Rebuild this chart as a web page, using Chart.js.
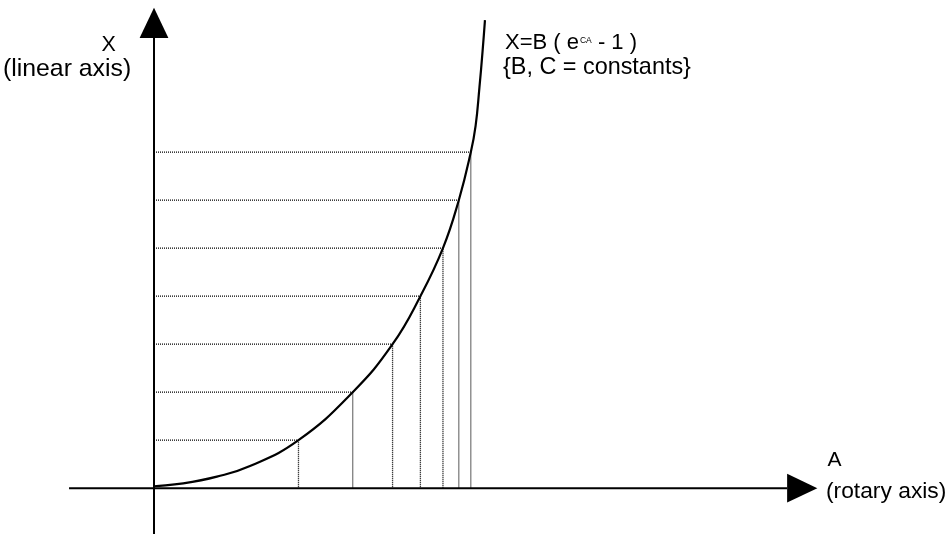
<!DOCTYPE html>
<html>
<head>
<meta charset="utf-8">
<title>X = B (e^CA - 1)</title>
<script src="https://cdn.jsdelivr.net/npm/chart.js@4.4.1/dist/chart.umd.min.js"></script>
<style>
    html, body { margin: 0; padding: 0; background: #fff; }
    canvas { display: block; }
</style>
</head>
<body>
<canvas id="curveChart" width="951" height="534"></canvas>
<script>
// Curve X = B(e^CA - 1) (A = rotary, X = linear)
const curveA = [0, 0.61, 1.31, 2.00, 3.01, 4.14, 4.97, 5.55, 6.02, 6.35, 6.60, 6.70, 6.78, 6.845, 6.895];
const curveX = [0.04, 0.10, 0.24, 0.46, 1, 2, 3, 4, 5, 6, 7, 7.55, 8.35, 9.10, 9.75];

// Equal steps of X and the A where the curve reaches them
const markX = [1, 2, 3, 4, 5, 6, 7];
const markA = [3.01, 4.14, 4.97, 5.55, 6.02, 6.35, 6.60];

// Axis extents (A / X units)
const axisA = [-1.77, 13.19];
const axisX = [-0.96, 9.38];
const arrowLen = 0.63;
const arrowHalf = 0.30;

const FONT = '"Liberation Sans", Arial, Helvetica, sans-serif';

const datasets = [];

// dotted guides: from the X axis to the curve, then down to the A axis
markX.forEach((x, i) => {
    datasets.push({
        data: [
            { x: 0, y: x },
            { x: markA[i], y: x },
            { x: markA[i], y: 0 }
        ],
        borderColor: '#000',
        borderWidth: 1.3,
        borderDash: [1, 1],
        pointRadius: 0,
        tension: 0
    });
});

datasets.push({
    data: curveA.map((a, i) => ({ x: a, y: curveX[i] })),
    borderColor: '#000',
    borderWidth: 2.2,
    pointRadius: 0,
    tension: 0.45
});

const axesPlugin = {
    id: 'axesPlugin',
    afterDatasetsDraw(chart) {
        const { ctx, scales: { x, y } } = chart;
        const x0 = x.getPixelForValue(0);
        const y0 = y.getPixelForValue(0);

        ctx.save();
        ctx.strokeStyle = '#000';
        ctx.fillStyle = '#000';
        ctx.lineWidth = 2;

        // A axis
        ctx.beginPath();
        ctx.moveTo(x.getPixelForValue(axisA[0]), y0);
        ctx.lineTo(x.getPixelForValue(axisA[1]), y0);
        ctx.stroke();

        // X axis
        ctx.beginPath();
        ctx.moveTo(x0, y.getPixelForValue(axisX[0]));
        ctx.lineTo(x0, y.getPixelForValue(axisX[1]));
        ctx.stroke();

        // arrow heads
        ctx.beginPath();
        ctx.moveTo(x.getPixelForValue(axisA[1]), y.getPixelForValue(arrowHalf));
        ctx.lineTo(x.getPixelForValue(axisA[1] + arrowLen), y0);
        ctx.lineTo(x.getPixelForValue(axisA[1]), y.getPixelForValue(-arrowHalf));
        ctx.closePath();
        ctx.fill();

        ctx.beginPath();
        ctx.moveTo(x.getPixelForValue(-arrowHalf), y.getPixelForValue(axisX[1]));
        ctx.lineTo(x0, y.getPixelForValue(axisX[1] + arrowLen));
        ctx.lineTo(x.getPixelForValue(arrowHalf), y.getPixelForValue(axisX[1]));
        ctx.closePath();
        ctx.fill();
        ctx.restore();
    },
    afterDraw(chart) {
        const ctx = chart.ctx;
        const text = (str, size, left, base) => {
            ctx.font = size + 'px ' + FONT;
            ctx.fillText(str, left, base);
            return left + ctx.measureText(str).width;
        };

        ctx.save();
        ctx.fillStyle = '#000';
        ctx.textAlign = 'left';
        ctx.textBaseline = 'alphabetic';

        text('X', 21.5, 101.5, 51);
        text('(linear axis)', 24.8, 3, 75.5);

        // formula with the small raised "CA"
        let end = text('X=B ( e', 22, 505, 48.5);
        end = text('CA', 8.5, end + 1, 43);
        text(' - 1 )', 22, end, 48.5);
        text('{B, C = constants}', 23.4, 503, 73.5);

        text('A', 21, 827.5, 465.5);
        text('(rotary axis)', 22.8, 826, 498);
        ctx.restore();
    }
};

new Chart(document.getElementById('curveChart'), {
    type: 'scatter',
    data: { datasets: datasets },
    options: {
        responsive: false,
        animation: false,
        devicePixelRatio: 1,
        showLine: true,
        layout: { padding: 0 },
        plugins: {
            legend: { display: false },
            tooltip: { enabled: false }
        },
        scales: {
            x: { type: 'linear', display: false, min: -154 / 48, max: (951 - 154) / 48 },
            y: { type: 'linear', display: false, min: -(534 - 488.2) / 48, max: 488.2 / 48 }
        }
    },
    plugins: [axesPlugin]
});
</script>
</body>
</html>
